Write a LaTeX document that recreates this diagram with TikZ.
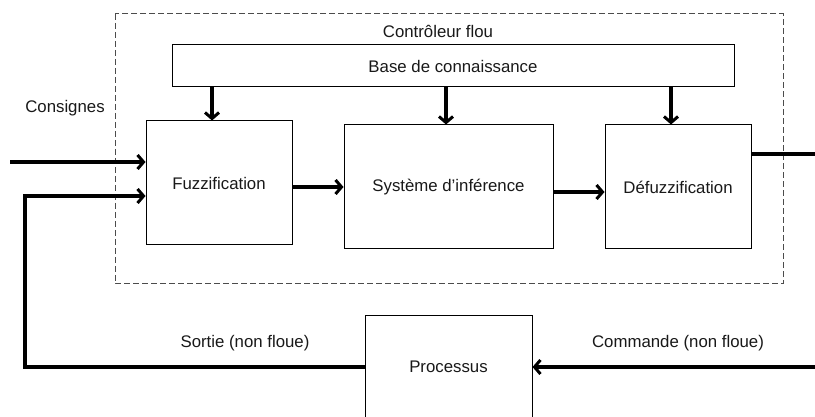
\documentclass[tikz,border=0pt]{standalone}
\usepackage{fontspec}
\setmainfont{Liberation Sans}
\usetikzlibrary{arrows.meta}
\begin{document}
\begin{tikzpicture}[x=1pt,y=-1pt,
  every node/.style={font=\fontsize{16.8}{20}\selectfont, text=black!90},
  blk/.style={draw=black, line width=1pt, inner sep=0pt},
  lbl/.style={inner sep=0pt},
  arr/.style={line width=3.4pt, -{Straight Barb[length=6pt,width=14pt,line width=3pt]}},
  wire/.style={line width=3.4pt},
  frame/.style={draw=black!70, line width=1pt, dash pattern=on 6pt off 3pt}]
\clip (0,0) rectangle (815,417);
\fill[white] (0,0) rectangle (815,417);
% dashed frame
\draw[frame] (115,14) rectangle (783,284);
\node[lbl] (ctrl) at (438,31) {Contrôleur flou};
% blocks
\node[blk, minimum width=562pt, minimum height=42pt] (base) at (453,66) {Base de connaissance};
\node[blk, minimum width=146pt, minimum height=124pt] (fuzz) at (219,183) {Fuzzification};
\node[blk, minimum width=209pt, minimum height=124pt] (sys) at (448.5,187) {Système d’inférence};
\node[blk, minimum width=146pt, minimum height=124pt] (def) at (678,187) {Défuzzification};
\node[blk, minimum width=167pt, minimum height=104pt] (proc) at (448.5,367) {Processus};
% labels
\node[lbl] (cons) at (65,108) {Consignes};
\node[lbl] (sortie) at (245,343) {Sortie (non floue)};
\node[lbl] (cmd) at (678,343) {Commande (non floue)};
% coordinates for free ends
\coordinate (inL) at (10,162);
\coordinate (outR) at (815,154);
\coordinate (cmdR) at (815,367);
\coordinate (fbx) at (25,0);
% base to blocks
\draw[arr] ([xshift=-7pt]fuzz.north |- base.south) -- ([xshift=-7pt]fuzz.north);
\draw[arr] ([xshift=-2.5pt]sys.north |- base.south) -- ([xshift=-2.5pt]sys.north);
\draw[arr] ([xshift=-7pt]def.north |- base.south) -- ([xshift=-7pt]def.north);
% chain
\draw[arr] (fuzz.east |- 0,187) -- (sys.west |- 0,187);
\draw[arr] (sys.east |- 0,192) -- (def.west |- 0,192);
% input
\draw[arr] (inL) -- (fuzz.west |- inL);
% output of defuzz
\draw[wire] (def.east |- outR) -- (outR);
% command
\draw[arr] (cmdR) -- (proc.east |- cmdR);
% feedback
\draw[arr, line join=miter] (proc.west) -- (fbx |- proc.west) -- (fbx |- 0,196) -- (fuzz.west |- 0,196);
\end{tikzpicture}
\end{document}
